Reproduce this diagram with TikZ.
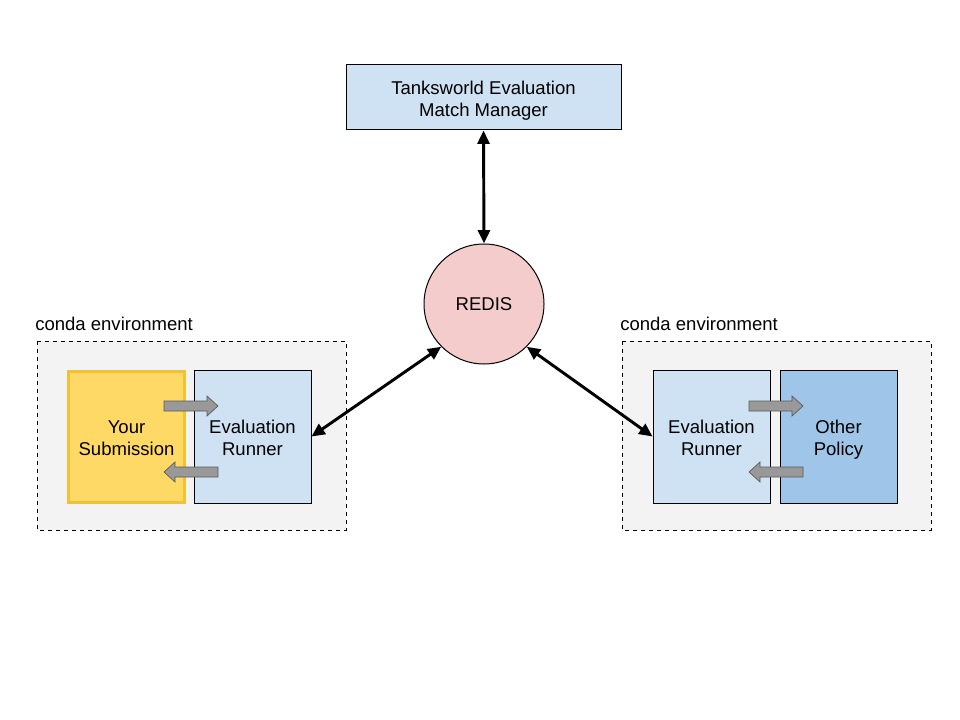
\documentclass[tikz,border=0pt]{standalone}
\usepackage{fontspec}
\setmainfont{Liberation Sans}
\usetikzlibrary{arrows.meta}
\definecolor{lblue}{HTML}{CFE2F3}
\definecolor{mblue}{HTML}{9FC5E8}
\definecolor{lred}{HTML}{F4CCCC}
\definecolor{lyel}{HTML}{FFD966}
\definecolor{dyel}{HTML}{F1C232}
\definecolor{envgray}{HTML}{F3F3F3}
\definecolor{agray}{HTML}{999999}
\definecolor{adgray}{HTML}{595959}
\newcommand{\tstrut}{\rule{0pt}{16.3pt}}
\begin{document}
\begin{tikzpicture}[x=0.75pt,y=-0.75pt,
  txt/.style={font=\fontsize{13.9}{16.5}\selectfont, align=center},
  box/.style={draw=black, line width=0.75pt, txt},
  envbox/.style={draw=black, dashed, fill=envgray, line width=0.75pt},
  conn/.style={line width=2.2pt, {Triangle[length=10pt,width=9pt]}-{Triangle[length=10pt,width=9pt]}},
  blk/.style={draw=adgray, fill=agray, line width=0.5pt, line join=miter},
  pics/blkright/.style={code={\path[blk] (-27,-5) -- (16,-5) -- (16,-10) -- (27,0) -- (16,10) -- (16,5) -- (-27,5) -- cycle;}},
  pics/blkleft/.style={code={\path[blk] (27,-5) -- (-16,-5) -- (-16,-10) -- (-27,0) -- (-16,10) -- (-16,5) -- (27,5) -- cycle;}}
]
\useasboundingbox (0,0) rectangle (960,720);
\fill[white] (0,0) rectangle (960,720);

% environments
\draw[envbox] (37,341) rectangle (346,530);
\draw[envbox] (622,341) rectangle (931,530);
\node[txt, anchor=base west, inner sep=0pt] (envl) at (35,330) {conda environment};
\node[txt, anchor=base west, inner sep=0pt] (envr) at (620,330) {conda environment};

% top manager
\node[box, fill=lblue, minimum width=206.25pt, minimum height=48.75pt] (mgr) at (483.5,97.5) {\tstrut Tanksworld Evaluation\\Match Manager\strut};

% redis
\node[circle, draw=black, line width=0.75pt, fill=lred, minimum size=90pt, inner sep=0pt, txt] (redis) at (484,304) {REDIS};

% left group
\node[draw=dyel, line width=2.3pt, fill=lyel, minimum width=87pt, minimum height=98.5pt, txt] (sub) at (126.5,437) {\tstrut Your\\Submission\strut};
\node[box, fill=lblue, minimum width=87.75pt, minimum height=99.75pt] (erl) at (252.5,436.5) {\tstrut Evaluation\\Runner\strut};
\pic at (191,406) {blkright};
\pic at (191,472) {blkleft};

% right group
\node[box, fill=lblue, minimum width=87.75pt, minimum height=99.75pt] (err) at (711.5,436.5) {\tstrut Evaluation\\Runner\strut};
\node[box, fill=mblue, minimum width=87.75pt, minimum height=99.75pt] (oth) at (838.5,436.5) {\tstrut Other\\Policy\strut};
\pic at (776,406) {blkright};
\pic at (776,472) {blkleft};

% connectors
\draw[conn] (mgr.south) -- (redis.north);
\draw[conn] (redis.225) -- (erl.east);
\draw[conn] (redis.315) -- (err.west);
\end{tikzpicture}
\end{document}
